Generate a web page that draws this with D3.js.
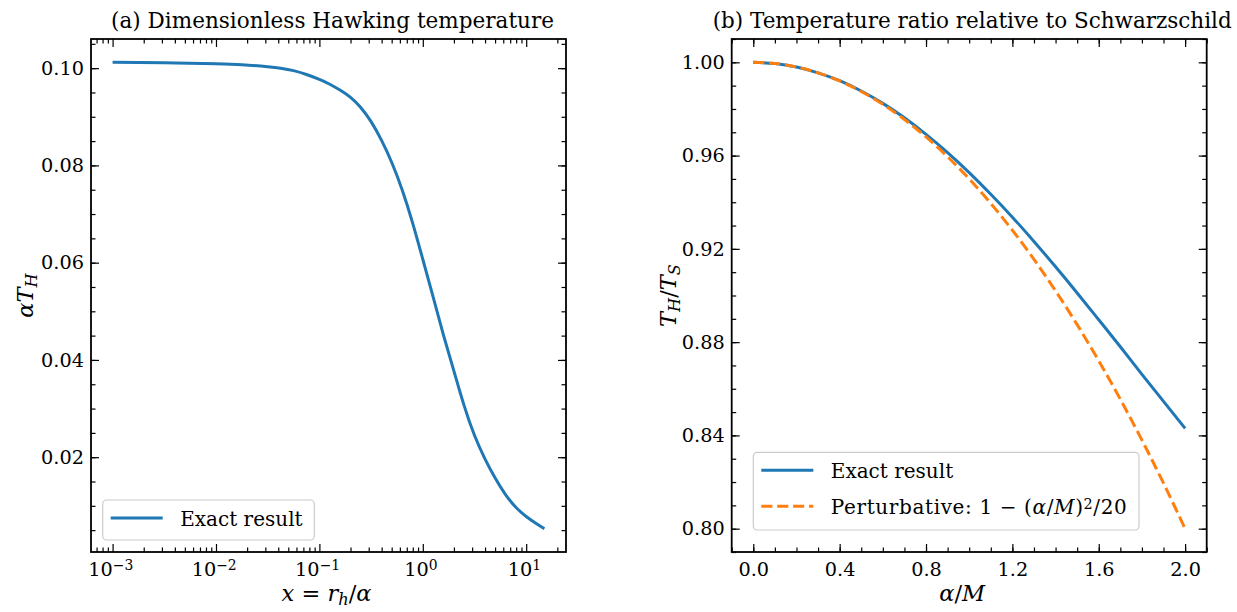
<!DOCTYPE html>
<html><head><meta charset="utf-8">
<script src="https://cdn.jsdelivr.net/npm/d3@7"></script>
<style>
body{margin:0;background:#fff}
svg{display:block}
</style></head><body>
<svg id="chart" width="1237" height="612" font-family="'DejaVu Serif', 'Liberation Serif', serif"></svg>
<script>
// Panel (a): dimensionless Hawking temperature alpha*T_H against x = r_h/alpha
const xRatio = [0.001,0.00316,0.01,0.0178,0.0316,0.0422,0.0562,0.075,0.1,0.126,0.158,0.2,0.251,0.316,0.398,0.501,0.631,0.794,1.0,1.26,1.58,2.0,2.51,3.16,3.98,5.01,6.31,7.94,10.0,12.6,15.0];
const tempA  = [0.1012,0.1011,0.1009,0.1007,0.1003,0.1000,0.0995,0.0987,0.0977,0.0967,0.0955,0.0940,0.0919,0.0890,0.0852,0.0806,0.0750,0.0683,0.0607,0.0529,0.0452,0.0377,0.0306,0.0245,0.0197,0.0157,0.0123,0.0097,0.0078,0.0063,0.0053];

// Panel (b): ratio T_H/T_S against alpha/M
const alphaM  = [0.0,0.1,0.2,0.3,0.4,0.5,0.6,0.7,0.8,0.9,1.0,1.1,1.2,1.3,1.4,1.5,1.6,1.7,1.8,1.9,2.0];
const exactB  = [1.0000,0.9995,0.9980,0.9955,0.9921,0.9877,0.9824,0.9762,0.9691,0.9613,0.9527,0.9434,0.9336,0.9232,0.9123,0.9011,0.8896,0.8780,0.8662,0.8546,0.8430];
const pertB   = [1.0000,0.9995,0.9980,0.9955,0.9920,0.9875,0.9820,0.9755,0.9680,0.9595,0.9500,0.9395,0.9280,0.9155,0.9020,0.8875,0.8720,0.8555,0.8380,0.8195,0.8000];

// Tick values
const xTicksA = [1e-3,1e-2,1e-1,1,10];
const xExpA   = ["\u22123","\u22122","\u22121","0","1"];
const yTicksA = [0.02,0.04,0.06,0.08,0.10];
const yLabelsA = ["0.02","0.04","0.06","0.08","0.10"];
const xTicksB = [0.0,0.4,0.8,1.2,1.6,2.0];
const xLabelsB = ["0.0","0.4","0.8","1.2","1.6","2.0"];
const yTicksB = [0.80,0.84,0.88,0.92,0.96,1.00];
const yLabelsB = ["0.80","0.84","0.88","0.92","0.96","1.00"];

const FONT = "'DejaVu Serif', 'Liberation Serif', serif";
const blue = "#1f77b4", orange = "#ff7f0e";
const svg = d3.select("#chart");
const plotTop = 39, plotBottom = 552;
const panelA = {l: 91, r: 566};
const panelB = {l: 731.7, r: 1206.7};
const tickFont = 19.3, titleFont = 21.5, labelFont = 22.5, legendFont = 20;

// padded limits, 5% of the data span on each side
function padded(lo, hi) { const d = hi - lo; return [lo - 0.05 * d, hi + 0.05 * d]; }

const lx = padded(Math.log10(d3.min(xRatio)), Math.log10(d3.max(xRatio)));
const xA = d3.scaleLog().domain([10 ** lx[0], 10 ** lx[1]]).range([panelA.l, panelA.r]);
const yA = d3.scaleLinear().domain(padded(d3.min(tempA), d3.max(tempA))).range([plotBottom, plotTop]);
const xB = d3.scaleLinear().domain(padded(d3.min(alphaM), d3.max(alphaM))).range([panelB.l, panelB.r]);
const yB = d3.scaleLinear().domain(padded(Math.min(d3.min(exactB), d3.min(pertB)), d3.max(exactB))).range([plotBottom, plotTop]);

function mathText(sel, parts) {
  sel.attr("font-family", FONT).attr("fill", "#000");
  parts.forEach(p => {
    const t = sel.append("tspan").text(p.t);
    if (p.i) t.attr("font-style", "italic");
    if (p.sub) t.attr("baseline-shift", "-22%").attr("font-size", "0.72em");
    if (p.sup) t.attr("baseline-shift", "38%").attr("font-size", "0.72em");
  });
  return sel;
}

function minorLog(scale) {
  const [a, b] = scale.domain();
  const out = [];
  for (let e = Math.floor(Math.log10(a)); e <= Math.ceil(Math.log10(b)); e++)
    for (let m = 2; m <= 9; m++) { const v = m * 10 ** e; if (v >= a && v <= b) out.push(v); }
  return out;
}
function minorLin(scale, step) {
  const [a, b] = scale.domain().slice().sort((p, q) => p - q);
  const out = [];
  for (let k = Math.ceil(a / step - 1e-9); k * step <= b + 1e-9; k++) out.push(+(k * step).toFixed(6));
  return out;
}

function drawFrame(g, x, y, xMajor, xMinor, yMajor, yMinor) {
  const x0 = x.range()[0], x1 = x.range()[1];
  const makers = [() => d3.axisBottom(x), () => d3.axisTop(x), () => d3.axisLeft(y), () => d3.axisRight(y)];
  const shifts = [`translate(0,${plotBottom})`, `translate(0,${plotTop})`, `translate(${x0},0)`, `translate(${x1},0)`];
  const out = {};
  makers.forEach((mk, i) => {
    const major = i < 2 ? xMajor : yMajor, minor = i < 2 ? xMinor : yMinor;
    const labelled = i === 0 || i === 2;
    const gm = g.append("g").attr("transform", shifts[i])
      .call(mk().tickValues(minor).tickSize(-4.5).tickFormat(""));
    gm.select(".domain").remove();
    const gM = g.append("g").attr("transform", shifts[i])
      .call(mk().tickValues(major).tickSize(-8).tickPadding(i === 0 ? 10 : 7).tickFormat(labelled ? null : ""));
    gM.select(".domain").remove();
    [gm, gM].forEach(s => {
      s.attr("font-family", FONT).attr("font-size", tickFont);
      s.selectAll(".tick line").attr("stroke", "#000").attr("stroke-width", 1.2);
    });
    gM.selectAll("text").attr("font-family", FONT).attr("font-size", tickFont).attr("fill", "#000");
    if (i === 0) out.bottom = gM;
    if (i === 2) out.left = gM;
  });
  g.append("rect").attr("x", x0).attr("y", plotTop).attr("width", x1 - x0).attr("height", plotBottom - plotTop)
    .attr("fill", "none").attr("stroke", "#000").attr("stroke-width", 1.8);
  return out;
}

// ---------- panel (a) ----------
const gA = svg.append("g");
gA.append("path").datum(xRatio.map((v, i) => [v, tempA[i]]))
  .attr("fill", "none").attr("stroke", blue).attr("stroke-width", 3)
  .attr("d", d3.line().x(d => xA(d[0])).y(d => yA(d[1])).curve(d3.curveNatural));
const axA = drawFrame(gA, xA, yA, xTicksA, minorLog(xA), yTicksA, minorLin(yA, 0.005));
axA.left.selectAll(".tick text").text((d, i) => yLabelsA[i]);
axA.bottom.selectAll(".tick text").text("").each(function(d, i) {
  const t = d3.select(this).attr("dx", "-0.12em");
  t.append("tspan").text("10");
  t.append("tspan").text(xExpA[i]).attr("font-size", "0.72em").attr("baseline-shift", "45%");
});

// ---------- panel (b) ----------
const gB = svg.append("g");
const lineB = d3.line().x(d => xB(d[0])).y(d => yB(d[1])).curve(d3.curveNatural);
gB.append("path").datum(alphaM.map((v, i) => [v, exactB[i]]))
  .attr("fill", "none").attr("stroke", blue).attr("stroke-width", 3).attr("d", lineB);
gB.append("path").datum(alphaM.map((v, i) => [v, pertB[i]]))
  .attr("fill", "none").attr("stroke", orange).attr("stroke-width", 3)
  .attr("stroke-dasharray", "11.1,4.8").attr("d", lineB);
const axB = drawFrame(gB, xB, yB, xTicksB, minorLin(xB, 0.1), yTicksB, minorLin(yB, 0.01));
axB.left.selectAll(".tick text").text((d, i) => yLabelsB[i]);
axB.bottom.selectAll(".tick text").text((d, i) => xLabelsB[i]);

// ---------- titles and axis labels ----------
const cA = (panelA.l + panelA.r) / 2, cB = (panelB.l + panelB.r) / 2;
mathText(svg.append("text").attr("x", cA + 4).attr("y", 28).attr("text-anchor", "middle").attr("font-size", titleFont)
  .attr("textLength", 443).attr("lengthAdjust", "spacing"),
  [{t: "(a) Dimensionless Hawking temperature"}]);
mathText(svg.append("text").attr("x", cB + 3).attr("y", 28).attr("text-anchor", "middle").attr("font-size", titleFont)
  .attr("textLength", 519).attr("lengthAdjust", "spacing"),
  [{t: "(b) Temperature ratio relative to Schwarzschild"}]);

mathText(svg.append("text").attr("x", cA - 2).attr("y", 601).attr("text-anchor", "middle").attr("font-size", labelFont),
  [{t: "x", i: 1}, {t: " = "}, {t: "r", i: 1}, {t: "h", i: 1, sub: 1}, {t: "/"}, {t: "\u03b1", i: 1}]);
mathText(svg.append("text").attr("x", cB - 7).attr("y", 601).attr("text-anchor", "middle").attr("font-size", labelFont),
  [{t: "\u03b1", i: 1}, {t: "/"}, {t: "M", i: 1}]);
mathText(svg.append("text").attr("transform", `translate(33,${(plotTop + plotBottom) / 2}) rotate(-90)`)
  .attr("text-anchor", "middle").attr("font-size", labelFont),
  [{t: "\u03b1", i: 1}, {t: "T", i: 1}, {t: "H", i: 1, sub: 1}]);
mathText(svg.append("text").attr("transform", `translate(676,${(plotTop + plotBottom) / 2}) rotate(-90)`)
  .attr("text-anchor", "middle").attr("font-size", labelFont),
  [{t: "T", i: 1}, {t: "H", i: 1, sub: 1}, {t: "/"}, {t: "T", i: 1}, {t: "S", i: 1, sub: 1}]);

// ---------- legends ----------
function legend(g, x, y, w, h, items) {
  g.append("rect").attr("x", x).attr("y", y).attr("width", w).attr("height", h).attr("rx", 4)
    .attr("fill", "#fff").attr("fill-opacity", 0.8).attr("stroke", "#cccccc").attr("stroke-width", 1.2);
  items.forEach((it, k) => {
    const cy = y + 18 + k * 36;
    g.append("line").attr("x1", x + 8).attr("x2", x + 60).attr("y1", cy).attr("y2", cy)
      .attr("stroke", it.color).attr("stroke-width", 3).attr("stroke-dasharray", it.dash || null);
    const t = mathText(g.append("text").attr("x", x + 77.5).attr("y", cy + 7.5).attr("font-size", legendFont), it.parts);
    if (it.len) t.attr("textLength", it.len).attr("lengthAdjust", "spacing");
  });
}
legend(gA, 102.7, 500, 211.6, 40, [{color: blue, parts: [{t: "Exact result"}]}]);
legend(gB, 753.3, 452.3, 385.7, 77.7, [
  {color: blue, parts: [{t: "Exact result"}]},
  {color: orange, dash: "11.1,4.8", len: 296, parts: [{t: "Perturbative: 1 \u2212 ("}, {t: "\u03b1", i: 1}, {t: "/"}, {t: "M", i: 1}, {t: ")"}, {t: "2", sup: 1}, {t: "/20"}]}
]);
</script>
</body></html>
